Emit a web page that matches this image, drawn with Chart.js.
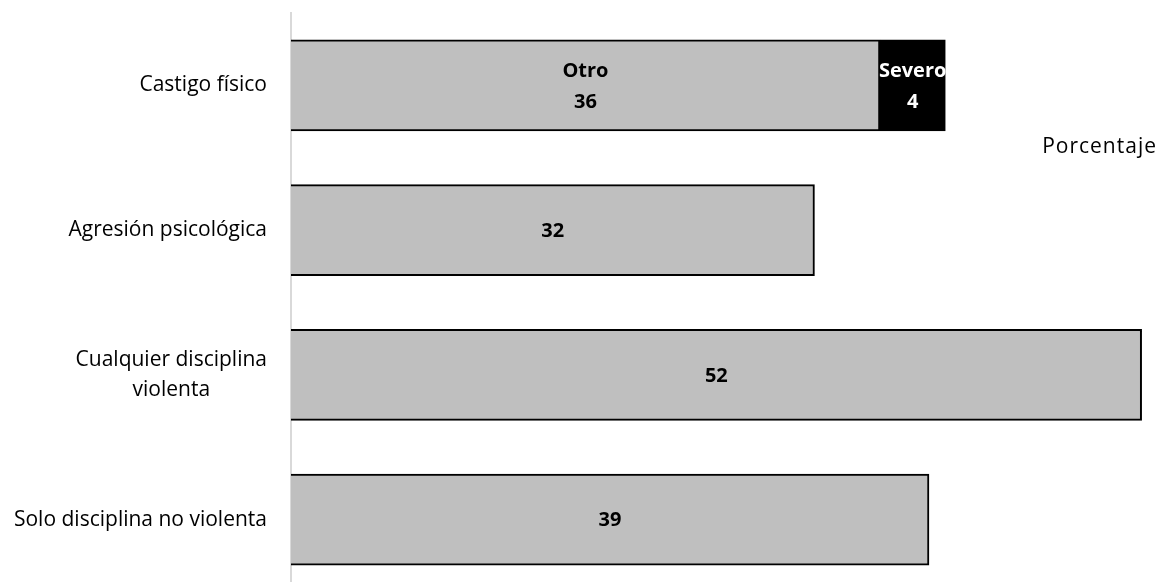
<!DOCTYPE html>
<html>
<head>
<meta charset="utf-8">
<script src="https://cdn.jsdelivr.net/npm/chart.js@4"></script>
<style>
  html, body { margin: 0; padding: 0; background: #fff; overflow: hidden; }
  #wrap { width: 1158px; height: 592px; }
</style>
</head>
<body>
<div id="wrap"><canvas id="disciplineChart" width="1158" height="592"></canvas></div>
<script>
const categories = [
  ['Castigo físico'],
  ['Agresión psicológica'],
  ['Cualquier disciplina', 'violenta'],
  ['Solo disciplina no violenta']
];
const otherValues = [36, 32, 52, 39];
const severeValues = [4, null, null, null];
const otherName = 'Otro';
const severeName = 'Severo';
const axisTitle = 'Porcentaje';

const font = '"Open Sans", Lato, sans-serif';

// custom labels: category names (centered lines), values in bars, axis title
const labelsPlugin = {
  id: 'labelsPlugin',
  afterDatasetsDraw(chart) {
    const ctx = chart.ctx;
    const y = chart.scales.y;
    ctx.save();
    ctx.textBaseline = 'middle';

    // category labels
    ctx.font = '21px ' + font;
    ctx.fillStyle = '#000';
    categories.forEach((lines, i) => {
      const cy = y.getPixelForValue(i);
      const maxW = Math.max(...lines.map(l => ctx.measureText(l).width));
      const center = 267 - maxW / 2;
      lines.forEach((l, j) => {
        ctx.textAlign = 'center';
        ctx.fillText(l, center, cy + (j - (lines.length - 1) / 2) * 30);
      });
    });

    // value labels
    ctx.font = 'bold 20px ' + font;
    ctx.textAlign = 'center';
    chart.data.datasets.forEach((ds, di) => {
      const meta = chart.getDatasetMeta(di);
      meta.data.forEach((bar, i) => {
        const v = ds.data[i];
        if (v === null || v === undefined) return;
        const cx = (bar.x + bar.base) / 2;
        ctx.fillStyle = di === 1 ? '#fff' : '#000';
        if (severeValues[i] !== null) {
          ctx.fillText(ds.label, cx, bar.y - 14);
          ctx.fillText(String(v), cx, bar.y + 17);
        } else {
          ctx.fillText(String(v), cx, bar.y + 1);
        }
      });
    });

    // axis title
    ctx.font = '21px ' + font;
    ctx.letterSpacing = '1px';
    ctx.fillStyle = '#000';
    ctx.textAlign = 'right';
    ctx.fillText(axisTitle, 1157, 147);
    ctx.restore();
  }
};

new Chart(document.getElementById('disciplineChart'), {
  type: 'bar',
  data: {
    labels: categories,
    datasets: [
      {
        label: otherName,
        data: otherValues,
        backgroundColor: '#bfbfbf',
        borderColor: '#000',
        borderWidth: 2,
        barThickness: 91
      },
      {
        label: severeName,
        data: severeValues,
        backgroundColor: '#000',
        borderColor: '#000',
        borderWidth: 2,
        barThickness: 91
      }
    ]
  },
  options: {
    indexAxis: 'y',
    responsive: false,
    animation: false,
    layout: { padding: { top: 13, left: 0, right: 0, bottom: 0 } },
    plugins: {
      legend: { display: false },
      tooltip: { enabled: false }
    },
    scales: {
      x: {
        stacked: true,
        min: 0,
        max: 53,
        display: false
      },
      y: {
        stacked: true,
        z: 1,
        grid: { display: false },
        border: { display: true, color: '#d9d9d9', width: 2 },
        ticks: { display: false },
        afterFit(scale) { scale.width = 291; }
      }
    }
  },
  plugins: [labelsPlugin]
});
</script>
</body>
</html>
